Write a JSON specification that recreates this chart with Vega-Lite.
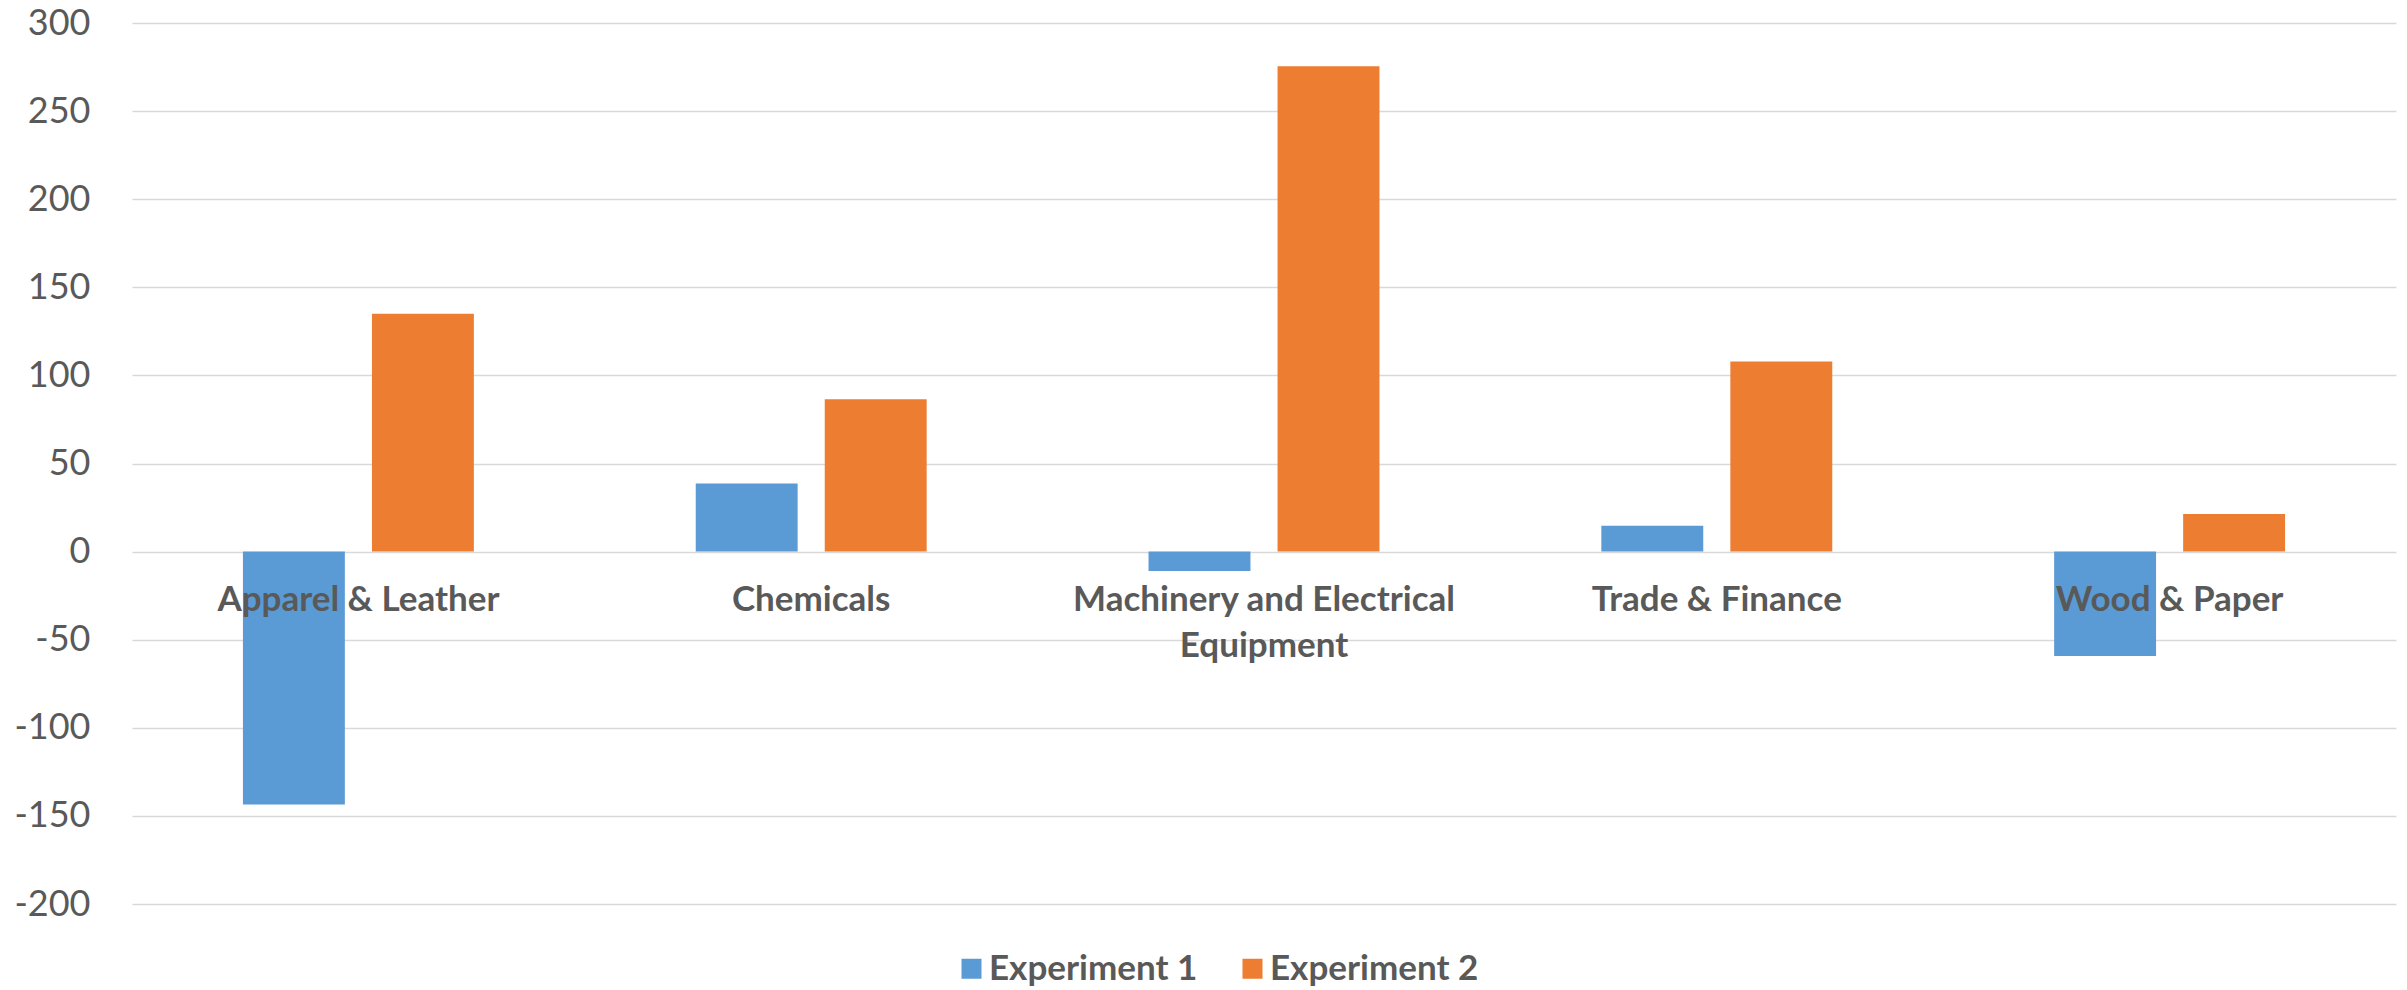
{
  "$schema": "https://vega.github.io/schema/vega-lite/v6.json",
  "autosize": "none",
  "width": 2264,
  "height": 881,
  "padding": {"left": 132, "top": 23, "right": 11, "bottom": 86},
  "background": "white",
  "data": {
    "values": [
      {"category": "Apparel & Leather", "series": "Experiment 1", "value": -143.5},
      {"category": "Apparel & Leather", "series": "Experiment 2", "value": 135},
      {"category": "Chemicals", "series": "Experiment 1", "value": 38.6},
      {"category": "Chemicals", "series": "Experiment 2", "value": 86.4},
      {"category": "Machinery and Electrical Equipment", "series": "Experiment 1", "value": -11},
      {"category": "Machinery and Electrical Equipment", "series": "Experiment 2", "value": 275.5},
      {"category": "Trade & Finance", "series": "Experiment 1", "value": 14.6},
      {"category": "Trade & Finance", "series": "Experiment 2", "value": 107.9},
      {"category": "Wood & Paper", "series": "Experiment 1", "value": -59.3},
      {"category": "Wood & Paper", "series": "Experiment 2", "value": 21.4}
    ]
  },
  "mark": {"type": "bar"},
  "encoding": {
    "x": {
      "field": "category",
      "type": "nominal",
      "sort": null,
      "scale": {"paddingInner": 0.49, "paddingOuter": 0.245},
      "axis": {
        "title": null,
        "orient": "bottom",
        "offset": -352.8,
        "domain": false,
        "ticks": false,
        "tickSize": 0,
        "grid": false,
        "labelAngle": 0,
        "labelPadding": 31,
        "labelFont": "Lato",
        "labelFontWeight": "bold",
        "labelFontSize": 35,
        "labelColor": "#595959",
        "labelLineHeight": 46,
        "labelLimit": 1000,
        "labelOverlap": false,
        "zindex": 2,
        "labelExpr": "datum.value == 'Machinery and Electrical Equipment' ? ['Machinery and Electrical', 'Equipment'] : datum.value"
      }
    },
    "xOffset": {
      "field": "series",
      "type": "nominal",
      "scale": {"paddingInner": 0.21, "paddingOuter": 0}
    },
    "y": {
      "field": "value",
      "type": "quantitative",
      "scale": {"domain": [-200, 300], "nice": false, "zero": false},
      "axis": {
        "title": null,
        "values": [-200, -150, -100, -50, 0, 50, 100, 150, 200, 250, 300],
        "labelExpr": "toString(datum.value)",
        "domain": false,
        "ticks": false,
        "tickSize": 0,
        "labelPadding": 42,
        "labelFont": "Lato",
        "labelFontSize": 36,
        "labelColor": "#595959",
        "gridColor": "#D9D9D9",
        "gridWidth": 1.3,
        "zindex": 0
      }
    },
    "color": {
      "field": "series",
      "type": "nominal",
      "scale": {"domain": ["Experiment 1", "Experiment 2"], "range": ["#5B9BD5", "#ED7D31"]},
      "legend": {
        "title": null,
        "orient": "none",
        "direction": "horizontal",
        "legendX": 822,
        "legendY": 928,
        "symbolType": "square",
        "symbolSize": 400,
        "symbolStrokeWidth": 0,
        "symbolOpacity": 1,
        "labelFont": "Lato",
        "labelFontWeight": "bold",
        "labelFontSize": 35,
        "labelColor": "#595959",
        "labelOffset": 0,
        "columnPadding": 37,
        "labelLimit": 400
      }
    }
  },
  "config": {
    "view": {"stroke": null},
    "bar": {"stroke": null}
  }
}
